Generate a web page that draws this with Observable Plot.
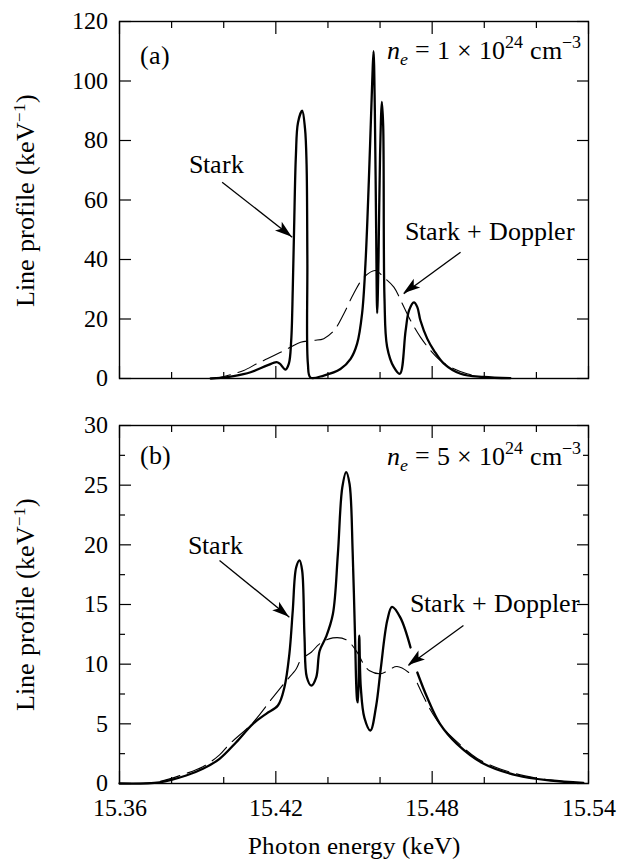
<!DOCTYPE html>
<html>
<head>
<meta charset="utf-8">
<script src="https://cdn.jsdelivr.net/npm/d3@7"></script>
<script src="https://cdn.jsdelivr.net/npm/@observablehq/plot@0.6"></script>
<style>
  @font-face { font-family: "ChartSerif"; src: local("Liberation Serif"), local("LiberationSerif"), local("LiberationSerif-Regular"); font-style: normal; }
  @font-face { font-family: "ChartSerif"; src: local("Liberation Serif Italic"), local("LiberationSerif-Italic"); font-style: italic; }
  body { margin: 0; background: #fff; }
  svg { display: block; }
</style>
</head>
<body>
<div id="wrap" style="font-family: 'Liberation Serif', serif;"></div>
<script>
// ---------- axes ----------
const xDomain = [15.36, 15.54];
const xMinorTicks = [15.38, 15.40, 15.44, 15.46, 15.50, 15.52];
const xMajorTicks = [15.36, 15.42, 15.48, 15.54];
const yTicksA = [0, 20, 40, 60, 80, 100, 120];
const yTicksB = [0, 5, 10, 15, 20, 25, 30];
const yMinorB = [2.5, 7.5, 12.5, 17.5, 22.5, 27.5];
const xLabel = "Photon energy (keV)";
const yLabel = "Line profile (keV−1)";

// ---------- panel (a): ne = 1e24 ----------
const starkEnergyA = [15.395, 15.3988, 15.4038, 15.4103, 15.4167, 15.4203, 15.4215, 15.4237, 15.4250, 15.4259,
  15.4265, 15.4270, 15.4277, 15.4285, 15.4301, 15.4312, 15.4318, 15.4321, 15.4323, 15.4333,
  15.4384, 15.4448, 15.4487, 15.4512, 15.4531, 15.4544, 15.4557, 15.4570, 15.4575, 15.4580,
  15.4585, 15.4589, 15.4594, 15.4600, 15.4607, 15.4612, 15.4617, 15.4627, 15.4653, 15.4676,
  15.4698, 15.4711, 15.4730, 15.4743, 15.4755, 15.4781, 15.4807, 15.4845, 15.4909, 15.4998, 15.510];
const starkA = [0, 0.2, 0.8, 2.1, 4.4, 5.5, 5.0, 3.0, 5.0, 12.8,
  30, 50, 75, 86, 90, 84, 72, 40, 5, 0.3,
  1.0, 3.2, 6.6, 11.7, 21.8, 38.6, 66.5, 100, 110, 90,
  50, 22, 40, 75, 93, 85, 27, 10.7, 3.8, 1.6,
  16, 22.8, 25.6, 24, 19.5, 13.4, 9.4, 5.0, 1.6, 0.5, 0.1];
const dopplerEnergyA = [15.395, 15.3988, 15.4039, 15.4077, 15.4128, 15.4167, 15.4218, 15.4256, 15.4295, 15.4346,
  15.4384, 15.4423, 15.4461, 15.4499, 15.4538, 15.4582, 15.4614, 15.4653, 15.4685, 15.4717,
  15.4755, 15.4794, 15.4832, 15.4883, 15.4934, 15.4998, 15.505];
const dopplerA = [0, 0.4, 1.6, 2.7, 5.0, 6.6, 8.8, 10.5, 12.2, 12.8,
  13.4, 16.1, 21.8, 28.6, 34, 36.3, 34, 30.7, 25.2, 19.5,
  13.9, 9.4, 6.0, 3.3, 1.6, 0.3, 0];

// ---------- panel (b): ne = 5e24 (null = break in the printed curve under the arrow) ----------
const starkEnergyB = [15.36, 15.3754, 15.3856, 15.392, 15.3984, 15.4048, 15.4112, 15.4163, 15.4208, 15.4233,
  15.4252, 15.4265, 15.4278, 15.4291, 15.4301, 15.4310, 15.4319, 15.4336, 15.4355, 15.4368,
  15.4393, 15.4419, 15.4438, 15.4455, 15.4470, 15.4483, 15.4495, 15.4504, 15.4512, 15.4515,
  15.4520, 15.4526, 15.4540, 15.4563, 15.4585, 15.4602, 15.4628, 15.4646, 15.4678, 15.4717,
  15.4730, 15.4743, 15.4781, 15.4830, 15.4896, 15.4998, 15.5126, 15.5254, 15.538];
const starkB = [0, 0.1, 0.67, 1.23, 2.07, 3.46, 5.0, 5.84, 6.54, 8.07,
  10.87, 14.5, 18.1, 18.7, 17.85, 12.3, 8.9, 8.2, 8.9, 11.1,
  12.3, 14.2, 19.2, 24.8, 26.1, 25.1, 19.3, 12.3, 7.0, 6.8,
  12.4, 8.1, 5.5, 4.44, 6.5, 9.5, 13.7, 14.8, 13.9, 11.4,
  null, 9.3, 7.2, 5.0, 3.3, 1.65, 0.67, 0.25, 0.05];
const dopplerEnergyB = [15.365, 15.375, 15.385, 15.392, 15.3984, 15.4022, 15.4112, 15.4188, 15.4240, 15.4278,
  15.4297, 15.4336, 15.4368, 15.4419, 15.4470, 15.4515, 15.4537, 15.4560, 15.4602, 15.4665,
  15.4710, 15.4727, 15.4743, 15.4790, 15.4836, 15.4900, 15.4973, 15.5064, 15.5156, 15.5278, 15.538];
const dopplerB = [0, 0.15, 0.8, 1.4, 2.4, 3.3, 5.1, 7.2, 8.6, 9.6,
  10.4, 11.0, 11.7, 12.2, 12.05, 10.9, 10.0, 9.45, 9.2, 9.8,
  9.3, null, 8.4, 6.3, 4.8, 3.4, 2.1, 1.2, 0.64, 0.22, 0.05];

// ---------- annotations (data coordinates) ----------
const panelTagA = "(a)";
const panelTagB = "(b)";
const densityA = "ne = 1 × 1024 cm−3";
const densityB = "ne = 5 × 1024 cm−3";
const labelsA = [
  {text: "Stark", x: 15.3972, y: 69.0},
  {text: "Stark + Doppler", x: 15.5022, y: 46.4}
];
const arrowsA = [
  {x1: 15.3994, y1: 66.0, x2: 15.4263, y2: 47.5},
  {x1: 15.4909, y1: 42.45, x2: 15.4691, y2: 28.5}
];
const labelsB = [
  {text: "Stark", x: 15.3970, y: 19.27},
  {text: "Stark + Doppler", x: 15.5043, y: 14.33}
];
const arrowsB = [
  {x1: 15.3984, y1: 18.69, x2: 15.4252, y2: 13.94},
  {x1: 15.4920, y1: 13.24, x2: 15.4709, y2: 9.89}
];

// rich-text rendering of labels (sub/superscripts)
const rich = {
  "Line profile (keV−1)": 'Line profile (keV<tspan dy="-9" font-size="17">−1</tspan><tspan dy="9">)</tspan>',
  "ne = 1 × 1024 cm−3": '<tspan font-style="italic">n</tspan><tspan font-style="italic" font-size="18" dy="6">e</tspan><tspan dy="-6"> = 1 × 10</tspan><tspan font-size="18" dy="-11">24</tspan><tspan dy="11"> cm</tspan><tspan font-size="18" dy="-11">−3</tspan>',
  "ne = 5 × 1024 cm−3": '<tspan font-style="italic">n</tspan><tspan font-style="italic" font-size="18" dy="6">e</tspan><tspan dy="-6"> = 5 × 10</tspan><tspan font-size="18" dy="-11">24</tspan><tspan dy="11"> cm</tspan><tspan font-size="18" dy="-11">−3</tspan>'
};

const FONT = "ChartSerif, 'Liberation Serif', serif";

function arrowHeads(arrows) {
  return (index, scales) => {
    const g = d3.create("svg:g");
    for (const a of arrows) {
      const x1 = scales.x(a.x1), y1 = scales.y(a.y1), x2 = scales.x(a.x2), y2 = scales.y(a.y2);
      const t = Math.atan2(y2 - y1, x2 - x1);
      const c = Math.cos(t), s = Math.sin(t);
      const L = 17, W = 5.5, B = 13;
      const p = [
        [x2, y2],
        [x2 - L * c + W * s, y2 - L * s - W * c],
        [x2 - B * c, y2 - B * s],
        [x2 - L * c - W * s, y2 - L * s + W * c]
      ];
      g.append("path").attr("d", "M" + p.map(q => q.join(",")).join("L") + "Z").attr("fill", "black");
    }
    return g.node();
  };
}

function panel(cfg) {
  const F = FONT;
  const solid = cfg.starkE.map((e, i) => ({e, v: cfg.stark[i]}));
  const dashed = cfg.dopE.map((e, i) => ({e, v: cfg.dop[i]}));
  const tickStyle = {strokeWidth: 1.2, label: null, tickFormat: () => ""};
  const marks = [
    Plot.frame({stroke: "black", strokeWidth: 1.4}),
    Plot.axisX({...tickStyle, anchor: "bottom", ticks: xMinorTicks, tickSize: -6}),
    Plot.axisX({...tickStyle, anchor: "bottom", ticks: xMajorTicks, tickSize: -12}),
    Plot.axisX({...tickStyle, anchor: "top", ticks: xMinorTicks, tickSize: -6}),
    Plot.axisX({...tickStyle, anchor: "top", ticks: xMajorTicks, tickSize: -12}),
    Plot.axisY({...tickStyle, anchor: "left", ticks: cfg.yTicks, tickSize: -12}),
    Plot.axisY({...tickStyle, anchor: "right", ticks: cfg.yTicks, tickSize: -12}),
    Plot.axisY({anchor: "left", ticks: cfg.yTicks, tickSize: 0, tickPadding: 12, label: null, fontSize: 24, fontFamily: F})
  ];
  if (cfg.yMinor) {
    marks.push(Plot.axisY({...tickStyle, anchor: "left", ticks: cfg.yMinor, tickSize: -6}));
    marks.push(Plot.axisY({...tickStyle, anchor: "right", ticks: cfg.yMinor, tickSize: -6}));
  }
  if (cfg.xLabels) {
    marks.push(Plot.axisX({anchor: "bottom", ticks: xMajorTicks, tickSize: 0, tickPadding: 15, label: null, fontSize: 24, fontFamily: F}));
    marks.push(Plot.text([xLabel], {frameAnchor: "bottom", dy: 70, lineAnchor: "bottom", textAnchor: "middle", fontSize: 25, fontFamily: F}));
  }
  marks.push(
    Plot.line(dashed, {x: "e", y: "v", stroke: "black", strokeWidth: 1.1, strokeDasharray: "20,8", curve: "catmull-rom"}),
    Plot.line(solid, {x: "e", y: "v", stroke: "black", strokeWidth: 2.3, curve: "catmull-rom"}),
    Plot.link(cfg.arrows, {x1: "x1", y1: "y1", x2: "x2", y2: "y2", stroke: "black", strokeWidth: 1.3}),
    arrowHeads(cfg.arrows),
    Plot.text(cfg.labels, {x: "x", y: "y", text: "text", lineAnchor: "bottom", fontSize: 26, fontFamily: F}),
    Plot.text([cfg.tag], {frameAnchor: "top-left", dx: 20, dy: cfg.tagDy, textAnchor: "start", lineAnchor: "bottom", fontSize: 26, fontFamily: F}),
    Plot.text([cfg.density], {frameAnchor: "top-right", dx: -8, dy: cfg.densDy, textAnchor: "end", lineAnchor: "bottom", fontSize: 26, fontFamily: F}),
    Plot.text([yLabel], {frameAnchor: "left", dx: -94, rotate: -90, textAnchor: "middle", lineAnchor: "middle", fontSize: 26, fontFamily: F})
  );
  const svg = Plot.plot({
    width: 623,
    height: cfg.height,
    marginLeft: 119,
    marginRight: 35,
    marginTop: cfg.mt,
    marginBottom: cfg.mb,
    style: {fontFamily: F, fontSize: "24px"},
    x: {domain: xDomain},
    y: {domain: cfg.yDomain},
    marks
  });
  svg.querySelectorAll("text").forEach(t => {
    const r = rich[t.textContent];
    if (r) t.innerHTML = r;
  });
  return svg;
}

const wrap = document.getElementById("wrap");
wrap.append(panel({
  height: 400, mt: 21, mb: 22, yDomain: [0, 120], yTicks: yTicksA,
  starkE: starkEnergyA, stark: starkA, dopE: dopplerEnergyA, dop: dopplerA,
  labels: labelsA, arrows: arrowsA, tag: panelTagA, density: densityA, tagDy: 42, densDy: 37
}));
wrap.append(panel({
  height: 461, mt: 25, mb: 78, yDomain: [0, 30], yTicks: yTicksB, yMinor: yMinorB,
  starkE: starkEnergyB, stark: starkB, dopE: dopplerEnergyB, dop: dopplerB,
  labels: labelsB, arrows: arrowsB, tag: panelTagB, density: densityB, tagDy: 38, densDy: 39,
  xLabels: true
}));
</script>
</body>
</html>
